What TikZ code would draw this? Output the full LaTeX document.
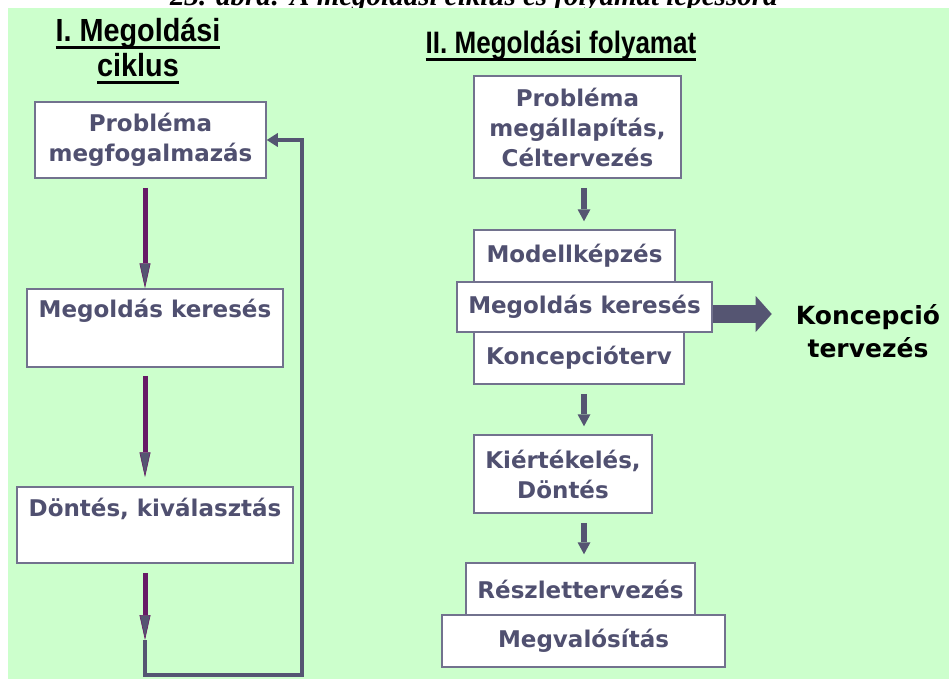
\documentclass[tikz,border=0pt]{standalone}
\usepackage{fontspec}
\setmainfont{DejaVu Sans}
\newfontfamily\boxfont{DejaVu Sans}
\newfontfamily\titlefont[FakeStretch=0.9]{Liberation Sans}
\newfontfamily\titlefontnarrow[FakeStretch=0.84]{Liberation Sans}
\newfontfamily\capfont{Liberation Serif}
\usetikzlibrary{arrows.meta}

\definecolor{bggreen}{HTML}{CCFFCC}
\definecolor{boxtext}{HTML}{505070}
\definecolor{boxline}{HTML}{72728E}
\definecolor{flowgray}{HTML}{555572}
\definecolor{flowpurple}{HTML}{661A66}

% underlined heading text with a thick rule
\newcommand\ulin[1]{\setbox0\hbox{#1}\rlap{\usebox0}\rule[-7pt]{\wd0}{2.8pt}}

\tikzset{
  boxstyle/.style={draw=boxline, line width=1.5pt, fill=white, inner sep=0pt,
    text=boxtext, font=\boxfont\bfseries\fontsize{23}{30}\selectfont, align=center},
  boxlabel/.style={inner sep=0pt, text=boxtext,
    font=\boxfont\bfseries\fontsize{23}{30}\selectfont},
  titlestyle/.style={inner sep=0pt, anchor=base, text=black},
  leftarrow/.style={draw=flowpurple, line width=5pt,
    -{Triangle[length=25pt,width=11pt,line width=0.6pt,fill=flowgray,color=flowpurple]}},
  loopline/.style={draw=flowgray, line width=4pt, line join=miter,
    -{Triangle[length=11pt,width=14pt,line width=0pt]}},
  rightarrow/.style={draw=flowgray, line width=6pt,
    -{Triangle[length=12pt,width=13pt,line width=0pt]}},
  bigarrow/.style={draw=flowgray, line width=18pt,
    -{Triangle[length=16pt,width=36pt,line width=0pt]}},
}

\begin{document}
\begin{tikzpicture}[x=1pt,y=-1pt]
\useasboundingbox (0,0) rectangle (949,679);
\fill[white] (0,0) rectangle (949,679);

% caption above the panel
\node[inner sep=0pt, anchor=base west,
  font=\capfont\bfseries\itshape\fontsize{29}{30}\selectfont] (cap) at (170,6)
  {23. ábra: A megoldási ciklus és folyamat lépéssora};

% panel
\fill[bggreen] (8,8) rectangle (949,679);

% headings
\node[titlestyle, font=\titlefont\bfseries\fontsize{32}{32}\selectfont] (t1) at (138,42) {\ulin{I. Megoldási}};
\node[titlestyle, font=\titlefont\bfseries\fontsize{32}{32}\selectfont] (t2) at (138,77) {\ulin{ciklus}};
\node[titlestyle, font=\titlefontnarrow\bfseries\fontsize{31}{31}\selectfont] (t3) at (561,54) {\ulin{II. Megoldási folyamat}};

% ---- I. solution cycle ----
\node[boxstyle, minimum width=231pt, minimum height=76pt] (b1) at (150.5,140) {Probléma\\megfogalmazás};
\node[boxstyle, minimum width=256pt, minimum height=78pt] (b2) at (155,328) {};
\node[boxlabel, yshift=-23pt] (b2t) at (b2.north) {Megoldás keresés};
\node[boxstyle, minimum width=276pt, minimum height=76pt] (b3) at (155,525) {};
\node[boxlabel, yshift=-23pt] (b3t) at (b3.north) {Döntés, kiválasztás};

\coordinate (lp) at (145,640);
\coordinate (lbl) at (145,675);
\coordinate (lbr) at (302,675);
\draw[loopline] (lp) -- (lbl) -- (lbr) |- (b1.east);

\draw[leftarrow] ([xshift=-5.5pt,yshift=-9pt]b1.south) -- ([xshift=-10pt]b2.north);
\draw[leftarrow] ([xshift=-10pt,yshift=-8pt]b2.south) -- ([xshift=-10pt,yshift=9pt]b3.north);
\draw[leftarrow] ([xshift=-10pt,yshift=-9pt]b3.south) -- (lp);

% ---- II. solution process ----
\node[boxstyle, minimum width=207pt, minimum height=102pt] (r1) at (577.5,127) {Probléma\\megállapítás,\\Céltervezés};
\node[boxstyle, minimum width=201pt, minimum height=52pt] (r2) at (574.5,256) {Modellképzés};
\node[boxstyle, minimum width=210pt, minimum height=52pt] (r4) at (579,358) {Koncepcióterv};
\node[boxstyle, minimum width=255pt, minimum height=50pt] (r3) at (584.5,307) {Megoldás keresés};
\node[boxstyle, minimum width=178pt, minimum height=78pt] (r5) at (563,474) {Kiértékelés,\\Döntés};
\node[boxstyle, minimum width=229pt, minimum height=52pt] (r6) at (580.5,589) {Részlettervezés};
\node[boxstyle, minimum width=283pt, minimum height=52pt] (r7) at (583.5,641) {Megvalósítás};

\draw[rightarrow] ([xshift=6.5pt,yshift=-9pt]r1.south) -- ([xshift=9.5pt,yshift=8pt]r2.north);
\draw[rightarrow] ([xshift=5pt,yshift=-9pt]r4.south) -- ([xshift=21pt,yshift=8pt]r5.north);
\draw[rightarrow] ([xshift=21pt,yshift=-9pt]r5.south) -- ([xshift=3.5pt,yshift=8pt]r6.north);

\node[inner sep=0pt, align=center, text=black,
  font=\boxfont\bfseries\fontsize{25}{33}\selectfont] (kc) at (868,331) {Koncepció\\tervezés};
\coordinate (ka) at ([yshift=-7pt]r3.east);
\draw[bigarrow, shorten >=24pt] (ka) -- (ka -| kc.west);
\end{tikzpicture}
\end{document}
